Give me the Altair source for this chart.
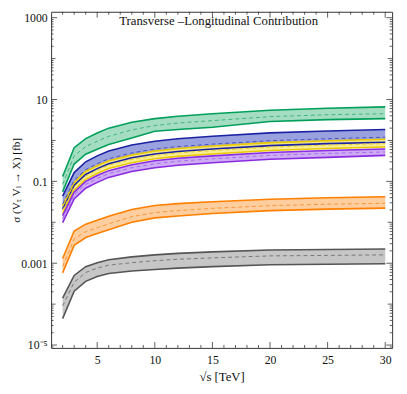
import altair as alt
import pandas as pd

# sqrt(s) in TeV
x_vals = [2, 3, 4, 5, 6, 8, 10, 12, 15, 20, 25, 30]

green_hi = [0.132, 0.664, 1.11, 1.52, 2.00, 2.78, 3.41, 3.92, 4.50, 5.45, 6.09, 6.61]
green_mid = [0.0848, 0.420, 0.708, 0.959, 1.26, 1.81, 2.32, 2.66, 3.05, 3.81, 4.25, 4.50]
green_lo = [0.0554, 0.265, 0.460, 0.607, 0.800, 1.15, 1.67, 1.86, 2.11, 2.89, 3.23, 3.41]

blue_hi = [0.0437, 0.164, 0.301, 0.420, 0.553, 0.770, 0.959, 1.10, 1.26, 1.53, 1.71, 1.86]
blue_mid = [0.0281, 0.1057, 0.194, 0.270, 0.356, 0.495, 0.617, 0.708, 0.813, 0.986, 1.10, 1.20]
blue_lo = [0.0213, 0.0802, 0.147, 0.205, 0.270, 0.376, 0.468, 0.538, 0.617, 0.748, 0.836, 0.908]

yellow_hi = [0.0252, 0.0946, 0.174, 0.242, 0.318, 0.443, 0.553, 0.634, 0.728, 0.883, 0.986, 1.07]
yellow_mid = [0.0197, 0.0738, 0.135, 0.189, 0.248, 0.346, 0.431, 0.495, 0.568, 0.689, 0.770, 0.836]
yellow_lo = [0.0162, 0.0609, 0.112, 0.155, 0.205, 0.285, 0.356, 0.408, 0.468, 0.568, 0.634, 0.689]

purple_hi = [0.0145, 0.0545, 0.100, 0.139, 0.183, 0.255, 0.318, 0.366, 0.420, 0.509, 0.568, 0.617]
purple_mid = [0.0123, 0.0462, 0.0848, 0.118, 0.155, 0.216, 0.270, 0.310, 0.356, 0.431, 0.482, 0.523]
purple_lo = [0.00986, 0.0371, 0.0680, 0.0946, 0.125, 0.174, 0.216, 0.248, 0.285, 0.346, 0.386, 0.431]

orange_hi = [0.00130, 0.00611, 0.00898, 0.0112, 0.0140, 0.0205, 0.0256, 0.0286, 0.0319, 0.0366, 0.0398, 0.0421]
orange_mid = [0.000834, 0.00390, 0.00591, 0.00736, 0.00918, 0.0137, 0.0173, 0.0193, 0.0219, 0.0255, 0.0277, 0.0292]
orange_lo = [0.000582, 0.00273, 0.00424, 0.00529, 0.00659, 0.00997, 0.0128, 0.0143, 0.0164, 0.0193, 0.0210, 0.0222]

gray_hi = [0.000141, 0.000502, 0.000824, 0.00103, 0.00121, 0.00143, 0.00160, 0.00174, 0.00189, 0.00211, 0.00216, 0.00222]
gray_mid = [0.0000908, 0.000341, 0.000592, 0.000759, 0.000896, 0.00103, 0.00115, 0.00125, 0.00135, 0.00151, 0.00155, 0.00160]
gray_lo = [0.0000443, 0.000208, 0.000360, 0.000475, 0.000560, 0.000643, 0.000699, 0.000759, 0.000824, 0.000921, 0.000946, 0.000973]

y_label_values = [1e-5, 1e-3, 0.1, 10, 1000]
x_label_values = [5, 10, 15, 20, 25, 30]

bands = [
    ("green", green_lo, green_mid, green_hi, "#00a05a", "#9ad9bb", "#3fb380"),
    ("blue", blue_lo, blue_mid, blue_hi, "#1b22a3", "#8f97dc", "#4a52c0"),
    ("yellow", yellow_lo, yellow_mid, yellow_hi, "#e8c800", "#f6ec85", "#e0c830"),
    ("purple", purple_lo, purple_mid, purple_hi, "#8a2be2", "#c9a3f2", "#a868ee"),
    ("orange", orange_lo, orange_mid, orange_hi, "#ff7f00", "#ffc995", "#f5963a"),
    ("gray", gray_lo, gray_mid, gray_hi, "#555555", "#c0c0c0", "#777777"),
]

W, H = 348, 343
serif = "Liberation Serif"

xscale = alt.Scale(domain=[1.0, 30.6], nice=False, zero=False)
yscale = alt.Scale(type="log", domain=[10 ** -5.07, 10 ** 3.144], nice=False)

xaxis = alt.Axis(values=x_label_values, tickSize=0, domain=False, grid=False,
                 labelFont=serif, labelFontSize=12, labelPadding=7, labelColor="#111",
                 title="√s  [TeV]", titleFont=serif, titleFontSize=13,
                 titleFontWeight="normal", titlePadding=5, titleColor="#111")
yaxis = alt.Axis(values=y_label_values, tickSize=0, domain=False, grid=False,
                 labelExpr="datum.value < 1e-4 ? '10⁻⁵' : toString(datum.value)",
                 labelFont=serif, labelFontSize=12, labelPadding=4, labelColor="#111",
                 title="σ (Vₜ Vₗ → X) [fb]", titleFont=serif, titleFontSize=11.5,
                 titleFontWeight="normal", titleX=-30, titleColor="#111")


def xe(field="x"):
    return alt.X(f"{field}:Q", scale=xscale, axis=xaxis)


def ye(field):
    return alt.Y(f"{field}:Q", scale=yscale, axis=yaxis)


area_layers, line_layers, dash_layers = [], [], []
for name, lo, mid, hi, stroke, fill, dash in bands:
    df = pd.DataFrame({"x": x_vals, "lo": lo, "mid": mid, "hi": hi})
    base = alt.Chart(df)
    area_layers.append(
        base.mark_area(color=fill, opacity=0.9, clip=True).encode(
            x=xe(), y=ye("lo"), y2="hi:Q"))
    for f in ("lo", "hi"):
        line_layers.append(
            base.mark_line(color=stroke, strokeWidth=1.6, clip=True).encode(x=xe(), y=ye(f)))
    dash_layers.append(
        base.mark_line(color=dash, strokeWidth=1, strokeDash=[4, 3], clip=True).encode(
            x=xe(), y=ye("mid")))

# frame ticks (inward, Mathematica style)
y_major = pd.DataFrame({"v": y_label_values})
y_mid = pd.DataFrame({"v": [1e-4, 1e-2, 1.0, 100.0]})
y_minor = pd.DataFrame({"v": [k * 10.0 ** n for n in range(-6, 3) for k in range(2, 10)
                              if 10 ** -5.07 < k * 10.0 ** n < 10 ** 3.144]})
x_major = pd.DataFrame({"v": x_label_values})
x_minor = pd.DataFrame({"v": [v for v in range(2, 31) if v % 5 != 0]})

tick_layers = []
for df, length in ((y_major, 6), (y_mid, 4.5), (y_minor, 2.5)):
    for x0, x1 in ((0, length), (W, W - length)):
        tick_layers.append(alt.Chart(df).mark_rule(color="#333", strokeWidth=0.8).encode(
            y=ye("v"), x=alt.value(x0), x2=alt.value(x1)))
for df, length in ((x_major, 6), (x_minor, 3)):
    for y0, y1 in ((H, H - length), (0, length)):
        tick_layers.append(alt.Chart(df).mark_rule(color="#333", strokeWidth=0.8).encode(
            x=xe("v"), y=alt.value(y0), y2=alt.value(y1)))

title = alt.Chart(pd.DataFrame({"t": ["Transverse –Longitudinal Contribution"]})).mark_text(
    font=serif, fontSize=13, baseline="top", align="center", color="#111"
).encode(text="t:N", x=alt.value(171), y=alt.value(3))

chart = alt.layer(*area_layers, *line_layers, *dash_layers, *tick_layers, title).properties(
    width=W, height=H,
    autosize=alt.AutoSizeParams(type="none"),
    padding={"left": 44, "top": 0, "right": 7, "bottom": 35},
).configure_view(stroke="#333", strokeWidth=1)

chart.save("out.html", embed_options={"renderer": "svg", "actions": False})
